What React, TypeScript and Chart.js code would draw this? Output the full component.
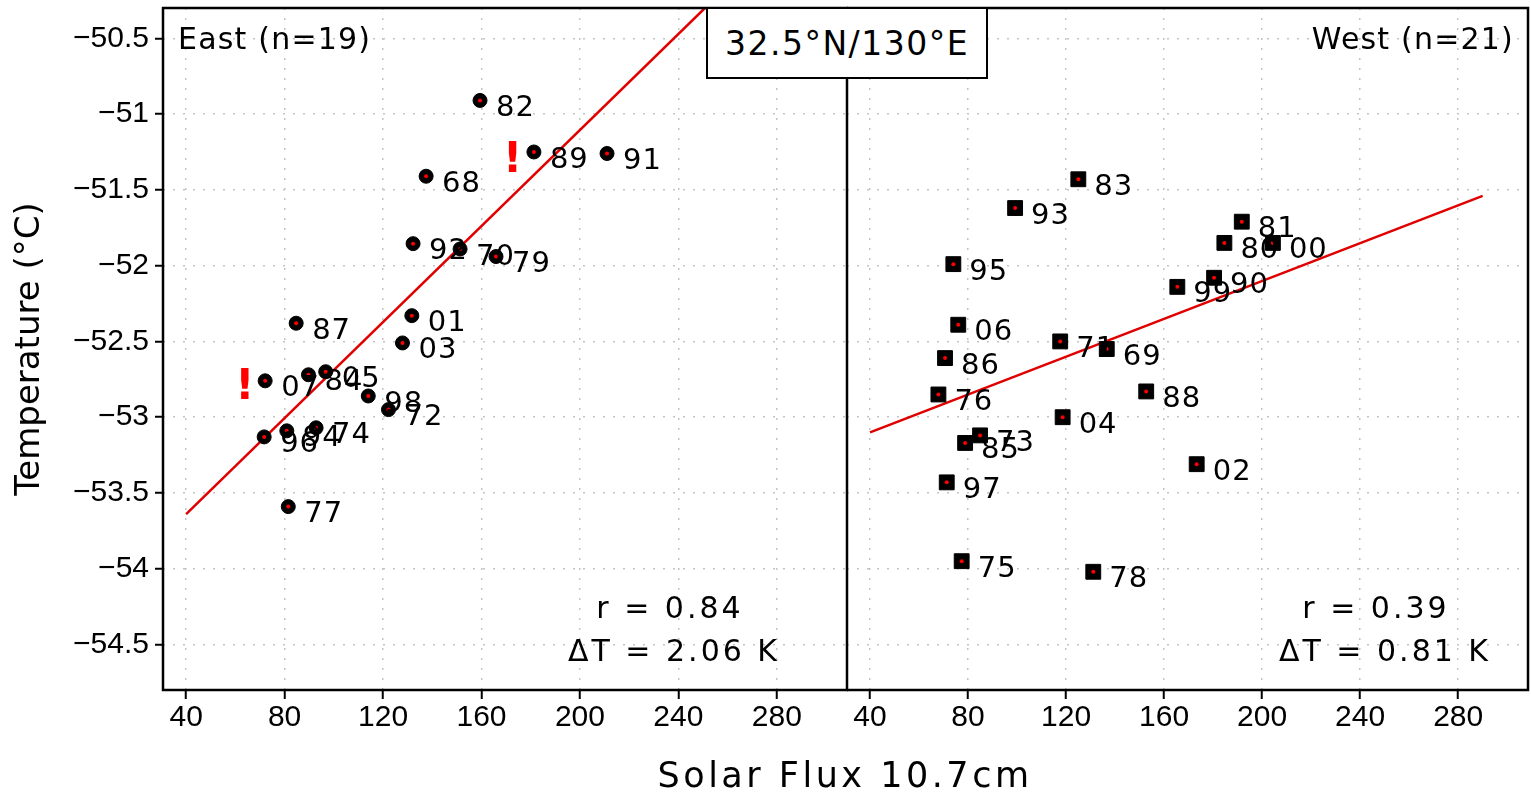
import React, { useEffect, useRef } from 'react';
import { Chart, registerables } from 'chart.js';

Chart.register(...registerables);

// ---------- data ----------
const eastYears = ['82', '89', '91', '68', '92', '70', '79', '01', '03', '87', '07', '84', '05', '98', '72', '96', '94', '74', '77'];
const eastFlux = [159.4, 181.3, 211.0, 137.5, 132.2, 151.3, 165.9, 131.7, 127.9, 84.7, 72.1, 89.7, 96.7, 114.0, 122.2, 71.7, 80.9, 92.8, 81.5];
const eastTemp = [-50.91, -51.25, -51.26, -51.41, -51.855, -51.89, -51.94, -52.33, -52.51, -52.38, -52.76, -52.72, -52.7, -52.86, -52.95, -53.13, -53.09, -53.07, -53.59];

const westYears = ['83', '93', '81', '80', '00', '95', '90', '99', '06', '71', '69', '86', '76', '88', '04', '73', '85', '97', '02', '75', '78'];
const westFlux = [125.0, 99.2, 191.7, 184.6, 204.4, 74.0, 180.4, 165.4, 76.0, 117.6, 136.6, 70.6, 67.9, 152.7, 118.6, 84.9, 78.8, 71.3, 173.3, 77.4, 131.1];
const westTemp = [-51.43, -51.62, -51.71, -51.85, -51.85, -51.99, -52.08, -52.14, -52.39, -52.5, -52.55, -52.61, -52.85, -52.83, -53.0, -53.12, -53.17, -53.43, -53.31, -53.95, -54.02];

const eastFitX = [40, 250.8];
const eastFitY = [-53.64, -50.3];
const westFitX = [40, 290];
const westFitY = [-53.1, -51.54];

const eastAlertFlux = [172.6, 63.8];
const eastAlertTemp = [-51.31, -52.81];

const eastStats = ['r = 0.84', 'ΔT = 2.06 K'];
const westStats = ['r = 0.39', 'ΔT = 0.81 K'];
const eastTitle = 'East (n=19)';
const westTitle = 'West (n=21)';
const locationTitle = '32.5°N/130°E';
const xTitle = 'Solar Flux 10.7cm';
const yTitle = 'Temperature (°C)';

const xTicks = [40, 80, 120, 160, 200, 240, 280];
const yTicks = [-50.5, -51, -51.5, -52, -52.5, -53, -53.5, -54, -54.5];
const xMin = 30.6;
const xMax = 308.5;
const yMin = -54.8;
const yMax = -50.3;

// ---------- styling ----------
const RED = '#e00000';
const GRID = '#c4c4c4';
const TICK_FONT = '"Liberation Sans", Arial, sans-serif';
const TEXT_FONT = '"DejaVu Sans", sans-serif';

type Panel = {
  flux: number[];
  temp: number[];
  years: string[];
  fitX: number[];
  fitY: number[];
  pointStyle: 'circle' | 'rect';
  radius: number;
  showY: boolean;
  padRight: number;
  title: string;
  titleAlign: 'left' | 'right';
  stats: string[];
  statsDx: number[];
  alertsX: number[];
  alertsY: number[];
};

function toPts(xs: number[], ys: number[]) {
  return xs.map((x, i) => ({ x, y: ys[i] }));
}

function zeroPadding(s: any) {
  s.paddingTop = 0;
  s.paddingBottom = 0;
  s.paddingLeft = 0;
  s.paddingRight = 0;
}

function makePlugin(p: Panel) {
  return {
    id: 'annot',
    afterDatasetsDraw(chart: any) {
      const ctx = chart.ctx as CanvasRenderingContext2D;
      const area = chart.chartArea;
      const metaIdx = chart.data.datasets.findIndex((d: any) => d.label === 'markers');
      const meta = chart.getDatasetMeta(metaIdx);
      ctx.save();
      ctx.fillStyle = '#000';
      ctx.font = `29px ${TEXT_FONT}`;
      (ctx as any).letterSpacing = '1px';
      ctx.textAlign = 'left';
      ctx.textBaseline = 'middle';
      meta.data.forEach((pt: any, i: number) => {
        ctx.fillText(p.years[i], pt.x + 16, pt.y + 8);
      });
      // alerts
      if (p.alertsX.length) {
        ctx.fillStyle = '#ff0000';
        ctx.font = `bold 42px ${TEXT_FONT}`;
        (ctx as any).letterSpacing = '0px';
        ctx.textAlign = 'center';
        const xs = chart.scales.x;
        const ys = chart.scales.y;
        p.alertsX.forEach((v, i) => {
          ctx.fillText('!', xs.getPixelForValue(v), ys.getPixelForValue(p.alertsY[i]));
        });
      }
      // panel title
      ctx.fillStyle = '#000';
      ctx.font = `30px ${TEXT_FONT}`;
      (ctx as any).letterSpacing = '1.2px';
      ctx.textAlign = p.titleAlign;
      ctx.fillText(p.title, p.titleAlign === 'left' ? area.left + 15 : area.right - 14, area.top + 33);
      // stats
      ctx.font = `30px ${TEXT_FONT}`;
      (ctx as any).letterSpacing = '3px';
      ctx.textAlign = 'center';
      ctx.fillText(p.stats[0], area.right - p.statsDx[0], area.bottom - 80);
      ctx.fillText(p.stats[1], area.right - p.statsDx[1], area.bottom - 37);
      ctx.restore();
    },
    afterDraw(chart: any) {
      const ctx = chart.ctx as CanvasRenderingContext2D;
      const a = chart.chartArea;
      ctx.save();
      ctx.strokeStyle = '#000';
      ctx.lineWidth = 2.5;
      ctx.strokeRect(a.left, a.top, a.right - a.left, a.bottom - a.top);
      ctx.restore();
    },
  };
}

function makeConfig(p: Panel): any {
  const gridCommon = {
    color: GRID,
    lineWidth: 1.5,
    drawTicks: true,
    tickColor: '#000',
    tickWidth: 2,
  };
  return {
    type: 'scatter',
    data: {
      datasets: [
        {
          label: 'dots',
          data: toPts(p.flux, p.temp),
          pointStyle: 'circle',
          pointRadius: 2,
          backgroundColor: '#ff0000',
          borderWidth: 0,
          order: 0,
        },
        {
          label: 'markers',
          data: toPts(p.flux, p.temp),
          pointStyle: p.pointStyle,
          pointRadius: p.radius,
          backgroundColor: '#000',
          borderColor: '#000',
          borderWidth: 1,
          order: 1,
        },
        {
          label: 'fit',
          data: toPts(p.fitX, p.fitY),
          showLine: true,
          borderColor: RED,
          borderWidth: 2.5,
          pointRadius: 0,
          fill: false,
          order: 2,
        },
      ],
    },
    options: {
      animation: false,
      responsive: false,
      events: [],
      layout: { autoPadding: false, padding: { top: 8, right: p.padRight, left: 0, bottom: 0 } },
      plugins: { legend: { display: false }, tooltip: { enabled: false } },
      scales: {
        x: {
          type: 'linear',
          min: xMin,
          max: xMax,
          afterBuildTicks: (s: any) => {
            s.ticks = xTicks.map((v) => ({ value: v }));
          },
          afterFit: (s: any) => {
            s.height = 106;
            zeroPadding(s);
          },
          ticks: {
            font: { family: TICK_FONT, size: 30 },
            color: '#000',
            padding: 1,
            maxRotation: 0,
            autoSkip: false,
            callback: (v: any) => String(v),
          },
          grid: { ...gridCommon, tickLength: 9 },
          border: { display: false, dash: [2, 8] },
        },
        y: {
          type: 'linear',
          min: yMin,
          max: yMax,
          afterBuildTicks: (s: any) => {
            s.ticks = yTicks.map((v) => ({ value: v }));
          },
          afterFit: (s: any) => {
            s.width = p.showY ? 163 : 0;
            zeroPadding(s);
          },
          ticks: {
            display: p.showY,
            font: { family: TICK_FONT, size: 30 },
            color: '#000',
            padding: 6,
            autoSkip: false,
            callback: (v: any) => String(v).replace('-', '\u2212'),
          },
          grid: { ...gridCommon, drawTicks: p.showY, tickLength: 8 },
          border: { display: false, dash: [2, 8] },
          title: {
            display: p.showY,
            text: yTitle,
            color: '#000',
            font: { family: TEXT_FONT, size: 34 },
            padding: { top: 10, bottom: 0 },
          },
        },
      },
    },
    plugins: [makePlugin(p)],
  };
}

export default function App() {
  const leftRef = useRef<HTMLCanvasElement>(null);
  const rightRef = useRef<HTMLCanvasElement>(null);

  useEffect(() => {
    document.body.style.margin = '0';
    const east: Panel = {
      flux: eastFlux,
      temp: eastTemp,
      years: eastYears,
      fitX: eastFitX,
      fitY: eastFitY,
      pointStyle: 'circle',
      radius: 7,
      showY: true,
      padRight: 1,
      title: eastTitle,
      titleAlign: 'left',
      stats: eastStats,
      statsDx: [177, 173],
      alertsX: eastAlertFlux,
      alertsY: eastAlertTemp,
    };
    const west: Panel = {
      flux: westFlux,
      temp: westTemp,
      years: westYears,
      fitX: westFitX,
      fitY: westFitY,
      pointStyle: 'rect',
      radius: 10.5,
      showY: false,
      padRight: 3,
      title: westTitle,
      titleAlign: 'right',
      stats: westStats,
      statsDx: [152, 143],
      alertsX: [],
      alertsY: [],
    };
    const c1 = new Chart(leftRef.current as HTMLCanvasElement, makeConfig(east));
    const c2 = new Chart(rightRef.current as HTMLCanvasElement, makeConfig(west));
    return () => {
      c1.destroy();
      c2.destroy();
    };
  }, []);

  return (
    <div
      style={{
        position: 'absolute',
        left: 0,
        top: 0,
        width: 1531,
        height: 796,
        background: '#fff',
        overflow: 'hidden',
      }}
    >
      <canvas ref={leftRef} width={848} height={796} style={{ position: 'absolute', left: 0, top: 0 }} />
      <canvas ref={rightRef} width={684} height={796} style={{ position: 'absolute', left: 847, top: 0 }} />
      <div
        style={{
          position: 'absolute',
          left: 706,
          top: 7,
          width: 282,
          height: 72,
          boxSizing: 'border-box',
          border: '2px solid #000',
          background: '#fff',
          display: 'flex',
          alignItems: 'center',
          justifyContent: 'center',
          fontFamily: TEXT_FONT,
          fontSize: 33,
          letterSpacing: '1.5px',
          color: '#000',
        }}
      >
        {locationTitle}
      </div>
      <div
        style={{
          position: 'absolute',
          left: 545,
          top: 753,
          width: 600,
          height: 44,
          lineHeight: '44px',
          textAlign: 'center',
          fontFamily: TEXT_FONT,
          fontSize: 35,
          letterSpacing: '3.5px',
          color: '#000',
        }}
      >
        {xTitle}
      </div>
    </div>
  );
}
